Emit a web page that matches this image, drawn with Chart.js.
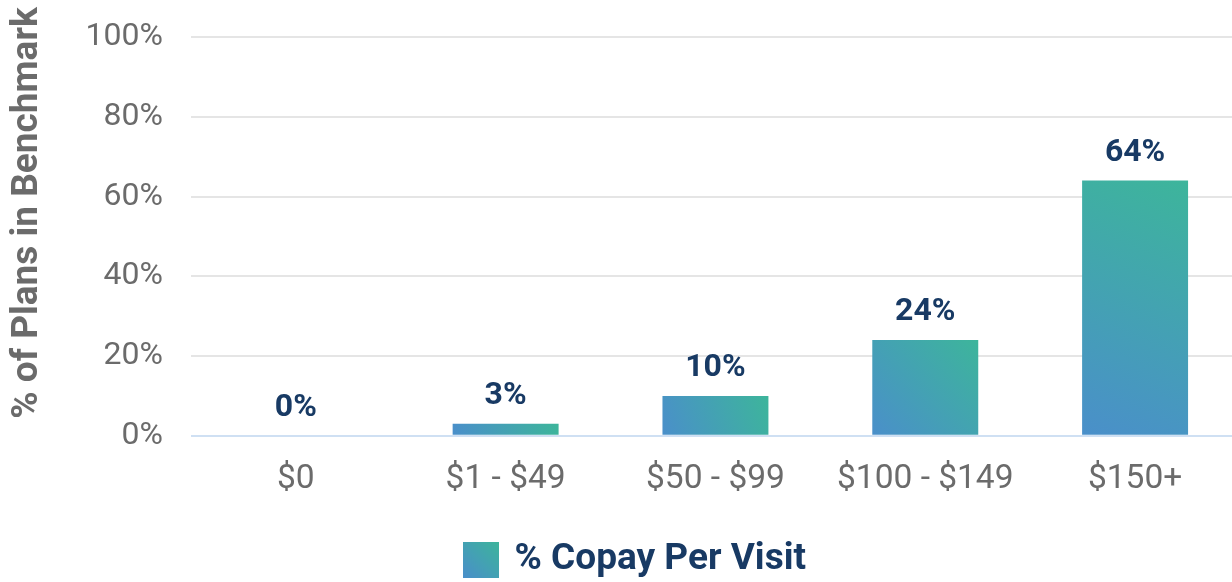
<!DOCTYPE html>
<html>
<head>
<meta charset="utf-8">
<script src="https://cdn.jsdelivr.net/npm/chart.js@4"></script>
<style>
html,body{margin:0;padding:0;background:#fff;overflow:hidden;}
#wrap{width:1232px;height:582px;position:relative;overflow:hidden;}
</style>
</head>
<body>
<div id="wrap"><canvas id="c" width="1232" height="582"></canvas></div>
<script>
const categories = ['$0', '$1 - $49', '$50 - $99', '$100 - $149', '$150+'];
const copayValues = [0, 3, 10, 24, 64];
const seriesName = '% Copay Per Visit';
const yAxisTitle = '% of Plans in Benchmark';
const yTicks = [0, 20, 40, 60, 80, 100];

const BLUE = '#4a8fca';
const TEAL = '#3db59b';
const NAVY = '#183a64';
const GRAY = '#6b6b6b';
const BAR_PCT = 0.505;

function makeGrad(ctx, x0, y0, x1, y1) {
  const g = ctx.createLinearGradient(x0, y0, x1, y1);
  g.addColorStop(0, BLUE);
  g.addColorStop(1, TEAL);
  return g;
}

// legend swatch image
const sw = document.createElement('canvas');
sw.width = 36; sw.height = 36;
(function(){ const c = sw.getContext('2d'); c.fillStyle = makeGrad(c, 0, 36, 36, 0); c.fillRect(0,0,36,36); })();

function barGradient(c) {
  const chart = c.chart;
  const xs = chart.scales.x, ys = chart.scales.y;
  if (!xs || !ys || c.type !== 'data' || c.dataIndex === undefined) return TEAL;
  const cx = xs.getPixelForValue(c.dataIndex);
  const w = xs.width / categories.length * BAR_PCT;
  const top = ys.getPixelForValue(copayValues[c.dataIndex]);
  const base = ys.getPixelForValue(0);
  if (![cx, w, top, base].every(Number.isFinite)) return TEAL;
  return makeGrad(chart.ctx, cx - w / 2, base, cx + w / 2, top);
}

// the plot area of the reference runs a little past the right edge of the canvas
const extendRight = {
  id: 'extendRight',
  afterLayout(chart) {
    const xs = chart.scales.x;
    if (!xs) return;
    xs.right += 8;
    xs.width = xs.right - xs.left;
    chart.chartArea.right += 8;
    chart.chartArea.width = chart.chartArea.right - chart.chartArea.left;
    xs.configure();
  }
};

const labelPlugin = {
  id: 'valueLabels',
  afterDatasetsDraw(chart) {
    const ctx = chart.ctx;
    ctx.save();
    ctx.font = 'bold 32px Roboto';
    ctx.fillStyle = NAVY;
    ctx.textAlign = 'center';
    ctx.textBaseline = 'middle';
    chart.getDatasetMeta(0).data.forEach((el, i) => {
      ctx.fillText(copayValues[i] + '%', el.x, el.y - 28);
    });
    ctx.restore();
  },
  afterDraw(chart) {
    const ctx = chart.ctx;
    ctx.save();
    ctx.translate(28, 213);
    ctx.rotate(-Math.PI / 2);
    ctx.font = 'bold 37px Roboto';
    ctx.fillStyle = GRAY;
    ctx.textAlign = 'center';
    ctx.textBaseline = 'middle';
    ctx.fillText(yAxisTitle, 0, 0);
    ctx.restore();
  }
};

new Chart(document.getElementById('c'), {
  type: 'bar',
  data: {
    labels: categories,
    datasets: [{
      label: seriesName,
      data: copayValues,
      backgroundColor: barGradient,
      barPercentage: BAR_PCT,
      categoryPercentage: 1.0,
      pointStyle: sw
    }]
  },
  options: {
    responsive: false,
    animation: false,
    layout: { padding: { top: 37, right: 0, left: 40, bottom: -6 } },
    plugins: {
      legend: {
        position: 'bottom',
        labels: {
          usePointStyle: true,
          pointStyleWidth: 30,
          color: NAVY,
          font: { family: 'Roboto', size: 37, weight: 'bold' },
          padding: 0
        }
      },
      tooltip: { enabled: false }
    },
    scales: {
      x: {
        grid: { display: false, drawTicks: false },
        border: { display: false },
        ticks: { color: GRAY, font: { family: 'Roboto', size: 33.5 }, padding: 24 },
        afterFit(s) { s.height += 17; s.paddingLeft = 0; s.paddingRight = 0; }
      },
      y: {
        min: 0, max: 100,
        afterBuildTicks(scale) { scale.ticks = yTicks.map(v => ({ value: v })); },
        afterFit(s) { s.width += 17.5; s.paddingTop = 0; s.paddingBottom = 0; },
        grid: {
          drawTicks: false,
          color: c => c.tick && c.tick.value === 0 ? '#cfe0f3' : '#e5e5e5',
          lineWidth: 2
        },
        border: { display: false },
        ticks: { color: GRAY, font: { family: 'Roboto', size: 32 }, padding: 28, callback: v => v + '%' }
      }
    }
  },
  plugins: [extendRight, labelPlugin]
});
</script>
</body>
</html>
